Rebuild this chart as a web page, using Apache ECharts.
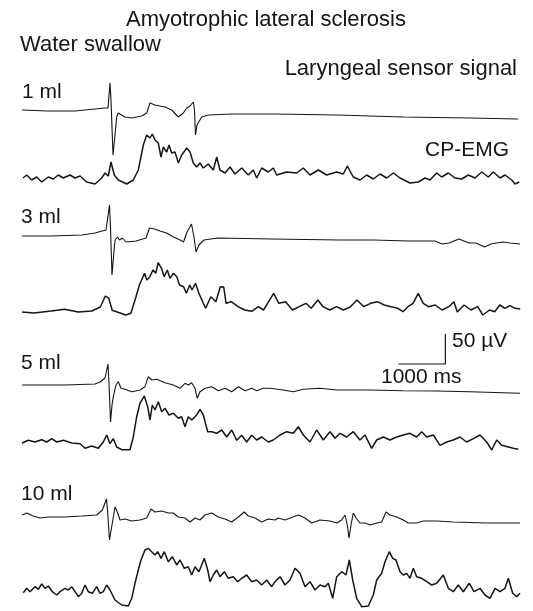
<!DOCTYPE html>
<html>
<head>
<meta charset="utf-8">
<title>Amyotrophic lateral sclerosis - water swallow</title>
<script src="https://cdn.jsdelivr.net/npm/echarts@6/dist/echarts.min.js"></script>
<style>
  html, body { margin: 0; padding: 0; background: #fff; }
  #chart { width: 533px; height: 611px; }
</style>
</head>
<body>
<div id="chart"></div>
<script>
// time axis: samples (47 samples = 1000 ms), amplitude: units (30 units = 50 uV)
// each trace = [sample, deflection from its own baseline]
const sensor1ml = [[0,1],[26,0],[53,0],[73,2],[83,3],[86,3],[88,28],[89,11],[91,-44],[92.5,-29],[94.7,-6],[96.3,-2],[103,-6],[109.7,-7],[119.7,-5],[124.7,-2],[128,8],[133,6],[143,4],[149.7,1],[156.3,-6],[161.3,-2],[164.7,3],[168,5],[171.3,9],[172.5,1],[173.5,-24],[175,-14],[179.7,-6],[186.3,-4],[209.7,-3],[253,-3],[314.7,-4],[381,-6],[448,-7],[496,-8]];

const emg1ml = [[1,3],[4.7,6],[9.7,1],[14.7,4],[19.7,-1],[26.3,4],[31.3,2],[36.3,6],[41.3,3],[48,6],[53,3],[58,5],[64.7,-1],[73,-3],[79.7,3],[83,8],[86.3,5],[89,19],[92.3,6],[96.3,1],[104.7,-3],[111.3,1],[116.3,11],[121.3,36],[124.7,46],[128,43],[130.3,47],[133,41],[136.3,38],[139,24],[141.3,34],[144.7,29],[147,36],[149.7,28],[153,29],[156.3,18],[159.7,26],[164.7,33],[168,29],[171.3,18],[174.7,14],[178,18],[181.3,13],[186.3,17],[191.3,11],[194.7,24],[198,11],[203,8],[208,14],[213,7],[219.7,13],[226.3,6],[231.3,11],[234.7,3],[239.7,13],[246.3,9],[251.3,13],[254.7,6],[264.7,9],[274.7,8],[281.3,13],[288,6],[296.3,11],[304.7,6],[314.7,9],[321.3,7],[325.3,15],[331.3,4],[338,1],[344.7,6],[351.3,2],[358,7],[364.7,3],[371.3,8],[378,3],[388,-2],[396.3,-1],[403,3],[408,1],[414.7,8],[419.7,4],[426.3,8],[433,3],[439.7,2],[446.3,6],[453,3],[459.7,9],[466.3,4],[471.3,9],[478,3],[483,6],[489.7,1],[493,-3],[497.3,-1]];

const sensor3ml = [[0,0],[29,0],[60,1],[73,3],[80,5],[84,6],[87.5,31],[88.5,8],[90,-39],[91.5,-21],[93,-4],[95.5,-1],[97.5,-4],[100.5,-2],[104,-6],[114,-5],[124,-2],[127.5,8],[132.5,7],[138,5],[144.5,3],[151.5,-1],[158,-4],[161.5,-6],[165,4],[169.5,12],[172,-1],[174,-16],[177,-9],[182,-4],[195.5,-2],[250,-3],[318,-4],[352,-4],[386,-5],[413,-5],[420,-8],[427,-7],[437,-3],[447,-7],[454,-7],[462.5,-11],[469,-8],[474.5,-7],[481,-6],[488,-7],[498,-8]];

const emg3ml = [[0,0],[12,-1],[29,1],[42.6,2.7],[56.2,0],[69.8,1],[78.3,5],[83.4,16],[86.8,13.7],[90.2,1.7],[95.3,0],[103.8,-3],[108.9,-1.3],[114,15.3],[117.4,27],[122.5,38.7],[124.9,32],[127.6,34.7],[131,42],[133.8,38.7],[136.1,49.3],[139.5,43.7],[142.2,35.3],[145.3,42],[148,33.7],[151.4,38.7],[154.8,35.3],[157.5,27],[161.6,25.3],[164.4,18.7],[167.7,27],[170,22],[173.5,28.7],[176.9,18.7],[181.3,8.7],[183.7,3.7],[188.8,15.3],[193.9,10.3],[198.3,25.3],[201.7,25],[204.1,8.7],[209.2,10.3],[216,5.3],[222.8,2],[229.6,0.7],[236.4,5.3],[241.5,2],[246.6,10.3],[251.7,18.7],[256.8,8.7],[263.6,10.3],[270.4,2],[277.2,5.3],[284,8.7],[289.1,3.7],[295.9,12],[301,5.3],[307.8,2],[314.6,5.3],[321.4,2],[328.2,5],[335,12],[341.8,5.3],[348.6,8.7],[355.4,10.3],[362.2,7],[369,5.3],[375.8,3.7],[380.9,0.3],[386,5.3],[391.1,8.7],[396.2,18.7],[401.3,8.7],[406.4,5.3],[413.2,7],[420,2],[426.8,5.3],[431.9,10.3],[435.3,0],[442.1,7],[448.9,2],[455.7,5.3],[460.8,-3],[467.6,2],[472.7,0.3],[477.8,7],[482.9,3.7],[488,6.3],[493.1,3.7],[498.2,3]];

const sensor5ml = [[0,0],[43,0],[73,1],[78,3],[83,7],[86,21],[87,2],[88.5,-37],[90,-20],[91.3,-11.7],[94,0],[96.3,3.3],[99,-3.3],[103,-4.3],[109.7,-6.7],[118,-5],[123,-1.7],[126.3,8.3],[129.7,5],[134.7,5.7],[143,2.3],[151.3,0],[158,-3.3],[163,1.7],[166.3,0],[169.7,2.3],[173,-3.3],[175.3,-13.3],[178,-6.7],[183,-3.3],[189.7,-1.7],[196.3,-5.7],[203,-3.3],[209.7,-6.7],[216.3,-1.7],[223,-5.7],[229.7,-3.3],[234.7,-5.7],[241.3,-3.3],[248,-3.3],[261.3,-5],[271.3,-6.7],[281.3,-4.3],[298,-3.3],[314.7,-5],[348,-5],[381.3,-5.7],[414.7,-6],[448,-6.7],[498,-8.3]];

const emg5ml = [[0,-1],[6.3,1.7],[13,0],[19.7,2.3],[24.7,0],[29.7,3.3],[34.7,0],[41.3,1.7],[49.7,-1],[58,-1.7],[63,-6.3],[69.7,-4],[76.3,-6.3],[81.3,0],[84.7,7],[88,-1.7],[91.3,3.3],[94.7,-5],[99.7,-7.7],[108,-7.7],[111.3,5],[114.7,25.3],[118,38.7],[122.3,46],[125.7,35.3],[128,22],[130.3,37],[133,32],[136.3,40.3],[139.7,30.3],[143,33.7],[147,27],[151.3,28.7],[156.3,23.7],[159.7,25.3],[163,15.3],[166.3,25.3],[169.7,22],[174.7,27],[178,32.7],[181.3,27],[185.7,10.3],[189.7,10.3],[194.7,8.7],[199.7,12],[204.7,5],[209.7,12],[214.7,1.7],[219.7,6.7],[224.7,0],[229.7,6.7],[234.7,2],[239.7,5],[246.3,0],[251.3,2],[258,7],[264.7,10.3],[271.3,8.7],[276.3,15.3],[281.3,7],[288,0],[294.7,12],[301.3,2],[308,10.3],[313,3.7],[318,8.7],[324.7,5],[331.3,10.3],[338,2],[343,7],[349.7,-6.3],[354.7,2],[361.3,5],[368,2],[374.7,5],[381.3,7],[388,8.7],[394.7,5],[399.7,10.3],[404.7,5],[411.3,7],[418,-3.3],[424.7,0],[431.3,2],[438,5],[444.7,0],[451.3,3.3],[458,7],[464.7,0],[469.7,-8],[474.7,2],[479.7,-3.3],[486.3,-5],[491.3,-6.3],[496.3,-7.3]];

const sensor10ml = [[0,0],[4.7,2],[11.3,-1],[18,-3],[26.3,-2],[43,-2],[59.7,-1],[74.7,0],[80.3,5],[84.5,16],[85.5,5],[87.5,-25],[90.3,-8],[93,8],[95.7,2],[98,-5],[103,-4],[109.7,-6],[118,-5],[124.7,-3],[129,6],[133,3],[139.7,4],[146.3,2],[151.3,2],[156.3,-2],[163,-3],[168,-7],[173,-3],[178,-5],[183,0],[189.7,2],[196.3,-2],[203,-4],[209.7,-7],[216.3,-2],[222.3,3],[226.3,-1],[233,-3],[239.7,-7],[246.3,-4],[253,-5],[256.3,-3],[263,-5],[276.3,0],[283,-3],[289.7,-8],[298,-5],[308,-6],[314.7,-8],[319.7,-5],[323,0],[325.3,-10],[327,-23],[329,-10],[331.3,2],[334,-3],[338,-8],[343,-8],[348,-10],[354.7,-8],[359.7,-7],[364,3],[368,0],[374.7,-2],[381.3,-5],[386.3,-8],[394.7,-8],[401.3,-6],[408,-6],[414.7,-6],[431.3,-7],[464.7,-8],[498,-8]];

const emg10ml = [[1.3,-2.7],[4.7,1.7],[8,-1.7],[13,3.3],[16.3,0.7],[19.7,6],[23,1.7],[26.3,4],[30.3,-1.7],[34.7,-5],[38,-1.7],[43,1.7],[46.3,0],[49.7,3.3],[53,-1.7],[56.3,-6.7],[59.7,-3.3],[63,5],[66.3,-1.7],[70.3,-3.3],[74.7,3.3],[78,-3.3],[81.3,-1.7],[84.7,5],[88,0],[93,-10],[99.7,-15],[106.3,-16],[109.7,-8.3],[113,6.7],[116.3,20],[119,30],[123,40],[126.3,41.7],[129.7,38.3],[133,35],[135.7,38.3],[139,31.7],[142.3,38.3],[146.3,28.3],[150.3,33.3],[154.7,25],[158,30],[162.3,21.7],[166.3,23.3],[169.7,15],[173,23.3],[177,18.3],[182.3,31.7],[185.7,20],[188,8.3],[191.3,15],[194.7,20],[198,13.3],[202.3,18.3],[206.3,11.7],[211.3,13.3],[215.7,8.3],[219.7,11.7],[224.7,15],[229.7,8.3],[234.7,10],[239.7,5],[244.7,10],[249.7,3.3],[253,8.3],[258,13.3],[263,5],[268,10],[273,21.7],[278,16.7],[283,3.3],[288,8.3],[293,0],[298,5],[303,3.3],[306.3,6.7],[310.7,-8.3],[314.7,13.3],[319.7,18.3],[324,15],[327.3,30],[330.7,10],[334.7,-8.3],[339.7,-16.7],[346.3,-16],[351.3,-5],[354.7,10],[359.7,16.7],[363,28.3],[367.3,38.3],[370.7,31.7],[374,30],[378,18.3],[381.3,15],[384.7,16.7],[388,11.7],[391.3,21.7],[394.7,13.3],[399.7,11.7],[404.7,8.3],[409.7,5],[414.7,6.7],[421.3,15],[426.3,1.7],[431.3,-1.7],[436.3,5],[441.3,-1.7],[447.3,6.7],[452,-1.7],[458,1.7],[463,-5],[468,-8.3],[473,1.7],[478,-1.7],[483,1.7],[486.3,11.7],[490.7,-3.3],[494.7,-6.7],[498,-3.3]];

// baseline of each trace on the amplitude axis (layout)
const baselines = [500, 430, 375, 299, 226, 169, 96, 21];
const traceData = [sensor1ml, emg1ml, sensor3ml, emg3ml, sensor5ml, emg5ml, sensor10ml, emg10ml];
const traceNames = ['1 ml sensor', '1 ml CP-EMG', '3 ml sensor', '3 ml CP-EMG', '5 ml sensor', '5 ml CP-EMG', '10 ml sensor', '10 ml CP-EMG'];

// calibration
const scaleBarMs = 1000;
const samplesPerSecond = 47;
const scaleBarUv = 50;
const unitsPer50uV = 30;
const scaleBarAnchor = [423.4, 247];

const chart = echarts.init(document.getElementById('chart'));

const series = traceData.map((d, i) => ({
    name: traceNames[i],
    type: 'line',
    data: d.map(p => [p[0], p[1] + baselines[i]]),
    showSymbol: false,
    silent: true,
    lineStyle: {
        color: '#151515',
        width: i % 2 ? 1.5 : 1.1
    }
}));

const barW = scaleBarMs / 1000 * samplesPerSecond;
const barH = scaleBarUv / 50 * unitsPer50uV;
series.push({
    name: 'scale',
    type: 'line',
    data: [
        [scaleBarAnchor[0] - barW, scaleBarAnchor[1]],
        [scaleBarAnchor[0], scaleBarAnchor[1]],
        [scaleBarAnchor[0], scaleBarAnchor[1] + barH]
    ],
    showSymbol: false,
    silent: true,
    lineStyle: { color: '#151515', width: 1.2 }
});

const font = (s) => s + 'px "Liberation Sans", Arial, sans-serif';
const label = (text, x, y, size, align) => ({
    type: 'text',
    x: x,
    y: y,
    style: {
        text: text,
        font: font(size),
        fill: '#151515',
        align: align || 'left',
        verticalAlign: 'middle'
    }
});

const option = {
    animation: false,
    grid: { left: 0, right: 0, top: 0, bottom: 0 },
    xAxis: { type: 'value', min: -22, max: 511, show: false },
    yAxis: { type: 'value', min: 0, max: 611, show: false },
    series: series,
    graphic: [
        label('Amyotrophic lateral sclerosis', 126, 19.5, 22),
        label('Water swallow', 20, 45, 22),
        label('Laryngeal sensor signal', 517, 68.8, 22, 'right'),
        label('1 ml', 22, 92.6, 21),
        label('CP-EMG', 509, 150.6, 21, 'right'),
        label('3 ml', 21, 217.6, 21),
        label('5 ml', 21, 363.6, 21),
        label('10 ml', 21, 494.6, 21),
        label('50 \u00b5V', 452, 341.6, 21),
        label('1000 ms', 381, 377.6, 21)
    ]
};

chart.setOption(option);
</script>
</body>
</html>
